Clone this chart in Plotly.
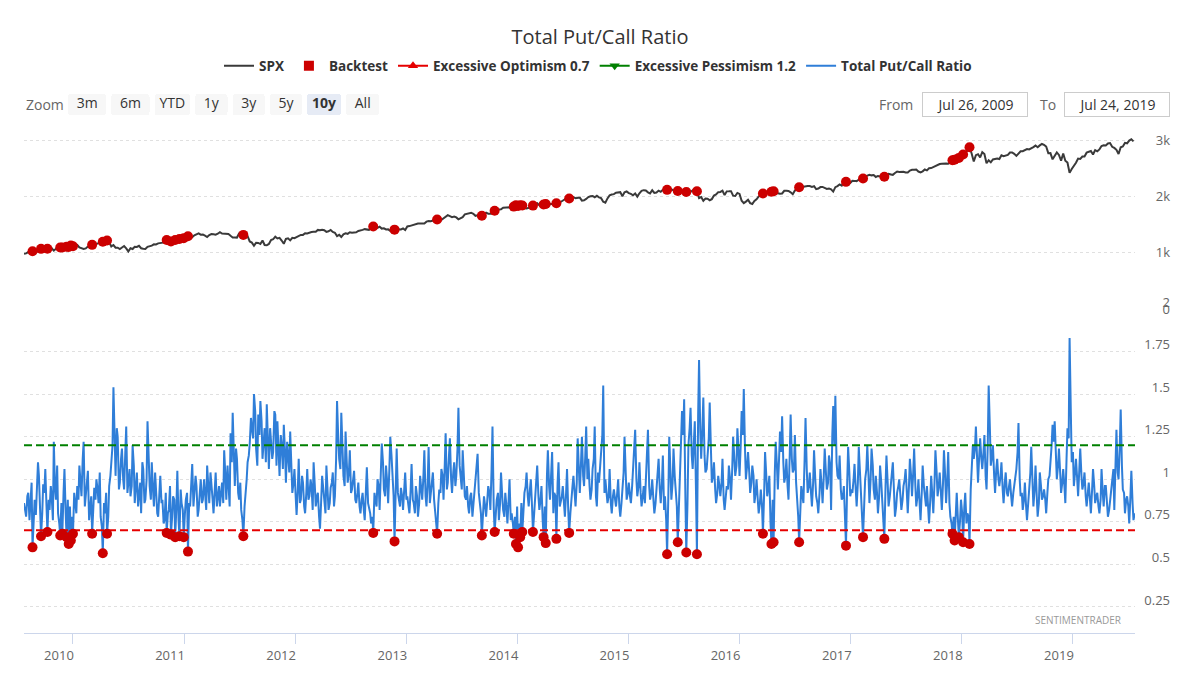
import pandas as pd
import plotly.graph_objects as go

# weekly closes (Fridays), starting 2009-07-24
spx_2009 = [979, 987, 1010, 1005, 1026, 1029, 1016, 1042, 1068, 1044, 1025, 1071, 1087, 1079, 1036,
            1069, 1093, 1091, 1091, 1106, 1106, 1102, 1126]
spx_2010 = [1115, 1145, 1136, 1092, 1074, 1066, 1075, 1109, 1104, 1139, 1150, 1160, 1167, 1179, 1194,
            1192, 1217, 1187, 1111, 1136, 1088, 1089, 1065, 1092, 1118, 1076, 1022, 1078, 1065, 1103,
            1102, 1122, 1079, 1071, 1065, 1105, 1110, 1125, 1149, 1146, 1166, 1176, 1183, 1183, 1225,
            1199, 1199, 1189, 1225, 1240, 1244, 1257]
spx_2011 = [1258, 1272, 1293, 1283, 1276, 1310, 1329, 1343, 1320, 1321, 1304, 1279, 1313, 1332, 1328,
            1319, 1337, 1364, 1340, 1338, 1333, 1331, 1300, 1271, 1271, 1268, 1340, 1344, 1316, 1345,
            1292, 1199, 1179, 1124, 1177, 1174, 1154, 1216, 1136, 1131, 1155, 1224, 1238, 1285, 1253,
            1263, 1216, 1159, 1244, 1255, 1219, 1265, 1258]
spx_2012 = [1278, 1289, 1315, 1316, 1345, 1342, 1361, 1366, 1370, 1371, 1404, 1397, 1408, 1398, 1370,
            1379, 1403, 1369, 1353, 1295, 1318, 1278, 1325, 1343, 1335, 1362, 1355, 1357, 1363, 1386,
            1391, 1405, 1418, 1411, 1406, 1438, 1466, 1460, 1441, 1461, 1428, 1433, 1412, 1414, 1380,
            1360, 1409, 1416, 1418, 1413, 1430, 1402]
spx_2013 = [1466, 1472, 1486, 1503, 1513, 1518, 1520, 1516, 1518, 1551, 1561, 1557, 1569, 1553, 1589,
            1555, 1582, 1614, 1634, 1667, 1650, 1631, 1643, 1626, 1592, 1606, 1632, 1680, 1692, 1691,
            1710, 1691, 1655, 1664, 1633, 1655, 1688, 1710, 1692, 1690, 1703, 1744, 1760, 1762, 1771,
            1798, 1804, 1806, 1805, 1775, 1818, 1841]
spx_2014 = [1831, 1842, 1838, 1790, 1783, 1797, 1838, 1836, 1859, 1878, 1841, 1866, 1857, 1865, 1815,
            1865, 1863, 1881, 1878, 1877, 1900, 1924, 1949, 1936, 1963, 1961, 1985, 1968, 1978, 1978,
            1925, 1931, 1955, 1988, 2003, 2008, 1985, 2010, 1982, 1968, 1906, 1887, 1964, 2018, 2032,
            2039, 2064, 2068, 2075, 2003, 2071, 2089]
spx_2015 = [2058, 2045, 2019, 2051, 1995, 2055, 2097, 2110, 2104, 2071, 2053, 2108, 2061, 2067, 2102,
            2081, 2117, 2108, 2116, 2123, 2126, 2107, 2092, 2094, 2110, 2102, 2077, 2077, 2127, 2079,
            2104, 2078, 2092, 1971, 1989, 1921, 1961, 1958, 1931, 1951, 2015, 2033, 2075, 2079, 2100,
            2023, 2089, 2090, 2092, 2012, 2006, 2061]
spx_2016 = [2044, 1922, 1880, 1907, 1940, 1880, 1865, 1918, 1948, 1999, 2022, 2050, 2035, 2073, 2048,
            2081, 2092, 2065, 2057, 2047, 2052, 2099, 2099, 2096, 2071, 2037, 2103, 2130, 2162, 2175,
            2173, 2183, 2184, 2184, 2169, 2180, 2128, 2139, 2165, 2168, 2153, 2133, 2141, 2126, 2085,
            2164, 2182, 2213, 2192, 2260, 2258, 2264, 2239]
spx_2017 = [2277, 2275, 2271, 2295, 2297, 2316, 2351, 2367, 2383, 2373, 2378, 2344, 2363, 2355, 2329,
            2349, 2384, 2399, 2391, 2382, 2416, 2439, 2432, 2433, 2438, 2423, 2425, 2459, 2473, 2472,
            2476, 2441, 2426, 2444, 2477, 2461, 2500, 2502, 2519, 2549, 2553, 2575, 2581, 2588, 2582,
            2579, 2602, 2642, 2652, 2675, 2683, 2674]
spx_2018 = [2743, 2786, 2810, 2873, 2762, 2620, 2732, 2747, 2691, 2786, 2752, 2588, 2641, 2604, 2656,
            2670, 2670, 2663, 2728, 2713, 2721, 2735, 2779, 2780, 2755, 2718, 2760, 2801, 2802, 2819,
            2840, 2833, 2850, 2875, 2902, 2872, 2905, 2930, 2914, 2885, 2767, 2768, 2658, 2723, 2781,
            2736, 2633, 2760, 2633, 2600, 2417, 2486]
spx_2019 = [2532, 2596, 2671, 2665, 2707, 2708, 2776, 2793, 2804, 2743, 2822, 2801, 2834, 2893, 2907,
            2905, 2940, 2946, 2881, 2860, 2826, 2752, 2873, 2887, 2950, 2942, 2990, 3014, 2977]

# put/call ratio, Friday readings
pc_2009 = [0.86, 0.78, 0.92, 0.84, 0.60, 0.88, 0.95, 1.02, 0.665, 0.97, 1.06, 0.69, 0.82, 0.90, 1.22,
           0.88, 0.80, 0.67, 0.68, 1.06, 0.66, 0.62, 0.64]
pc_2010 = [0.68, 0.85, 0.96, 1.08, 0.90, 1.22, 0.92, 1.05, 0.84, 0.68, 0.95, 1.00, 0.86, 0.78, 0.565,
           0.80, 0.68, 0.96, 1.08, 1.54, 1.02, 1.25, 0.98, 1.18, 0.94, 1.31, 1.00, 0.90, 1.20, 0.86,
           1.04, 0.92, 0.80, 1.06, 0.88, 1.34, 0.96, 1.10, 0.84, 0.93, 0.78, 1.02, 0.88, 0.76, 0.685,
           0.82, 0.675, 0.90, 0.66, 1.05, 0.665, 0.86]
pc_2011 = [0.66, 0.88, 0.575, 0.84, 1.09, 0.90, 0.96, 0.82, 1.00, 0.88, 0.92, 1.08, 0.86, 0.94, 0.80,
           1.04, 0.90, 0.84, 0.98, 1.17, 0.88, 0.94, 1.27, 1.39, 0.96, 1.12, 0.88, 0.82, 0.665, 0.90,
           1.10, 1.21, 1.30, 1.50, 1.18, 1.38, 1.46, 1.12, 1.30, 1.44, 1.06, 1.24, 1.16, 1.38, 1.34,
           1.02, 1.20, 1.32, 0.98, 1.14, 1.28, 0.92, 1.06]
pc_2012 = [0.79, 1.12, 0.88, 0.98, 0.80, 1.06, 0.90, 0.96, 1.10, 0.84, 0.92, 0.71, 1.02, 0.86, 1.08,
           0.82, 0.95, 1.04, 0.90, 1.46, 1.12, 1.39, 1.02, 1.28, 0.98, 1.17, 0.94, 1.05, 0.86, 0.98,
           0.80, 0.92, 0.76, 1.07, 0.84, 0.74, 0.685, 0.88, 1.00, 0.82, 1.21, 0.94, 1.08, 0.86, 1.25,
           1.02, 0.635, 1.18, 0.88, 0.95, 0.82, 1.04]
pc_2013 = [0.90, 0.80, 1.09, 0.86, 0.96, 0.78, 1.02, 0.88, 1.17, 0.84, 1.19, 0.92, 1.04, 0.82, 0.68,
           0.94, 1.06, 0.88, 1.27, 0.98, 1.24, 0.92, 1.10, 1.02, 1.42, 1.00, 1.17, 0.90, 0.96, 0.80,
           0.92, 0.84, 1.00, 1.15, 0.86, 0.67, 0.90, 0.78, 0.96, 0.82, 1.31, 0.69, 0.88, 0.76, 1.04,
           0.82, 0.92, 0.74, 1.00, 0.80, 0.68, 0.62]
pc_2014 = [0.60, 0.66, 0.69, 0.92, 1.04, 0.84, 1.00, 0.69, 0.90, 1.08, 0.82, 0.96, 0.66, 0.625, 1.17,
           0.88, 1.16, 0.92, 0.65, 1.10, 0.86, 0.96, 0.78, 1.06, 0.685, 0.90, 1.02, 0.84, 1.24, 0.92,
           1.25, 0.96, 1.31, 1.12, 0.88, 1.06, 1.31, 0.84, 0.98, 1.18, 1.55, 1.00, 0.86, 1.06, 0.80,
           0.94, 0.84, 1.00, 0.78, 0.92, 1.25, 0.88]
pc_2015 = [0.98, 0.86, 1.06, 1.29, 0.90, 1.10, 0.84, 0.96, 1.02, 1.29, 0.88, 1.00, 0.80, 0.94, 1.12,
           0.86, 1.14, 0.90, 0.56, 1.25, 0.88, 1.18, 0.92, 0.63, 1.02, 1.40, 1.47, 0.57, 1.20, 1.42,
           1.06, 1.34, 0.56, 1.70, 1.12, 1.48, 1.04, 1.16, 1.45, 0.98, 1.10, 0.86, 1.02, 0.90, 1.12,
           0.82, 0.96, 1.08, 0.88, 1.25, 1.02, 1.30]
pc_2016 = [1.02, 1.40, 1.53, 1.00, 1.16, 0.92, 1.08, 0.86, 1.00, 0.80, 0.94, 0.68, 1.16, 0.90, 1.02,
           0.62, 0.63, 1.22, 0.94, 1.28, 1.37, 0.98, 1.12, 0.88, 1.38, 1.04, 1.26, 0.90, 0.63, 0.96,
           0.86, 1.36, 0.92, 1.04, 0.84, 1.17, 0.90, 0.80, 1.06, 0.86, 1.18, 0.94, 1.14, 0.82, 1.43,
           1.49, 1.02, 1.14, 0.88, 0.96, 0.61, 1.19, 0.90]
pc_2017 = [0.92, 1.09, 0.84, 1.19, 0.90, 0.66, 1.00, 1.20, 0.86, 1.18, 0.94, 1.02, 0.80, 1.08, 0.88,
           0.65, 1.14, 0.84, 0.96, 1.10, 0.78, 0.92, 1.00, 0.82, 0.96, 1.06, 0.80, 1.12, 0.90, 1.18,
           0.84, 1.00, 0.76, 1.08, 0.88, 0.96, 0.74, 1.02, 0.80, 1.17, 0.90, 1.04, 0.82, 1.17, 0.86,
           1.16, 0.78, 0.68, 0.64, 0.92, 0.66, 0.88]
pc_2018 = [0.63, 0.92, 0.80, 0.62, 1.04, 1.12, 1.31, 0.98, 1.24, 1.06, 1.26, 0.94, 1.55, 1.08, 1.20,
           0.92, 1.12, 0.96, 1.10, 0.86, 1.04, 0.90, 1.00, 0.84, 0.96, 1.06, 1.33, 0.90, 0.82, 0.98,
           0.76, 0.92, 1.19, 0.84, 1.08, 0.78, 1.04, 0.88, 0.94, 0.80, 1.00, 1.08, 1.32, 1.34, 1.00,
           1.18, 0.92, 1.06, 0.86, 1.30, 1.83, 1.10]
pc_2019 = [0.96, 1.12, 0.90, 1.18, 0.94, 1.04, 0.84, 0.98, 0.80, 1.06, 0.86, 0.92, 0.80, 1.06, 0.84,
           0.96, 0.78, 0.88, 1.00, 0.82, 1.29, 1.00, 1.41, 0.94, 0.80, 0.90, 0.74, 1.05, 0.76]

# put/call ratio, Tuesday readings (the Tuesday after each Friday above)
pc_mid_2009 = [0.82, 0.90, 0.76, 0.98, 0.84, 0.79, 1.10, 0.86, 0.80, 0.92,
               0.84, 0.88, 0.96, 0.76, 0.94, 1.08, 0.74, 0.86, 0.92, 0.80,
               0.88, 0.84, 0.78]
pc_mid_2010 = [0.92, 0.80, 0.88, 0.96, 1.12, 0.84, 0.98, 0.76, 0.90, 0.82,
               0.88, 0.94, 1.04, 0.72, 0.86, 0.92, 0.78, 1.02, 1.20, 1.10,
               1.30, 0.94, 1.12, 1.00, 1.16, 0.92, 1.06, 0.96, 1.08, 0.94,
               0.84, 0.98, 1.10, 0.86, 1.00, 1.12, 0.88, 0.94, 1.04, 0.80,
               0.90, 0.86, 0.74, 0.92, 0.80, 0.96, 0.78, 0.88, 0.84, 0.76,
               0.94, 0.82]
pc_mid_2011 = [0.80, 0.92, 0.86, 0.98, 0.84, 1.02, 0.78, 0.94, 0.86, 1.00,
               0.82, 0.96, 1.04, 0.88, 0.92, 0.84, 0.96, 0.90, 0.86, 1.02,
               1.08, 0.84, 1.10, 1.04, 1.18, 0.92, 0.98, 0.76, 0.84, 1.00,
               1.14, 1.36, 1.24, 1.40, 1.08, 1.26, 1.34, 1.20, 1.10, 1.22,
               1.30, 1.12, 1.40, 1.08, 1.18, 1.26, 1.06, 1.16, 1.22, 1.04,
               1.12, 0.98, 0.90]
pc_mid_2012 = [0.94, 0.86, 1.02, 0.84, 0.92, 0.88, 1.00, 0.82, 0.96, 0.90,
               0.78, 0.88, 0.94, 0.80, 0.92, 0.86, 0.98, 0.84, 1.12, 1.24,
               1.06, 1.18, 0.96, 1.10, 1.04, 0.92, 1.00, 0.88, 0.92, 0.84,
               0.88, 0.82, 0.94, 0.86, 0.80, 0.78, 0.92, 0.84, 0.96, 1.04,
               1.10, 0.90, 0.98, 1.06, 1.14, 0.90, 1.02, 0.92, 0.84, 0.90,
               0.96, 0.88]
pc_mid_2013 = [0.84, 0.94, 0.88, 0.80, 0.90, 0.86, 0.94, 1.02, 0.90, 0.98,
               0.86, 0.96, 0.88, 0.76, 0.86, 0.92, 1.02, 1.08, 0.94, 1.14,
               1.00, 1.04, 0.96, 1.18, 1.08, 0.94, 1.02, 0.88, 0.84, 0.90,
               0.78, 0.94, 1.06, 0.92, 0.80, 0.86, 0.84, 0.88, 0.92, 1.06,
               0.84, 0.80, 0.92, 0.86, 0.90, 0.78, 0.84, 0.88, 0.76, 0.74,
               0.78, 0.84]
pc_mid_2014 = [0.74, 0.86, 0.82, 0.96, 0.90, 0.94, 0.84, 0.80, 0.98, 0.90,
               0.88, 0.76, 0.84, 1.02, 0.96, 1.04, 0.80, 0.90, 0.98, 0.84,
               0.90, 0.86, 0.92, 0.82, 0.80, 0.96, 0.88, 0.98, 1.06, 1.10,
               1.02, 1.14, 1.00, 0.96, 0.94, 1.12, 0.90, 1.04, 1.08, 1.26,
               0.92, 0.94, 0.90, 0.86, 0.90, 0.88, 0.92, 0.84, 0.86, 1.04,
               0.96, 0.92]
pc_mid_2015 = [0.90, 0.96, 1.14, 1.00, 0.96, 0.92, 0.90, 0.86, 1.12, 0.96,
               0.92, 0.88, 0.86, 1.02, 0.94, 0.98, 0.82, 0.76, 0.90, 1.04,
               0.98, 1.02, 0.84, 0.88, 1.18, 1.26, 0.90, 0.86, 1.30, 1.14,
               1.22, 0.92, 1.38, 1.28, 1.30, 1.14, 1.06, 1.24, 1.08, 1.02,
               0.94, 0.92, 0.96, 0.98, 0.88, 0.90, 0.94, 1.00, 1.06, 1.12,
               1.08, 1.16]
pc_mid_2016 = [1.20, 1.26, 1.18, 1.08, 1.04, 0.98, 1.02, 0.92, 0.88, 0.86,
               0.84, 0.92, 1.02, 0.96, 0.74, 0.88, 1.04, 1.08, 1.12, 1.16,
               1.10, 1.02, 0.96, 1.14, 1.12, 1.06, 0.98, 0.78, 0.84, 0.90,
               1.12, 1.06, 0.96, 0.92, 0.98, 1.00, 0.86, 0.92, 0.96, 1.02,
               1.04, 0.98, 1.08, 1.26, 1.20, 1.10, 1.00, 0.94, 0.90, 0.76,
               0.98, 1.04, 0.94]
pc_mid_2017 = [1.00, 0.94, 0.98, 1.04, 0.80, 0.86, 1.06, 1.02, 1.00, 1.08,
               0.88, 0.92, 0.90, 0.98, 0.78, 0.96, 0.98, 0.90, 1.02, 0.92,
               0.84, 0.96, 0.90, 0.88, 1.00, 0.92, 0.96, 1.02, 1.04, 0.96,
               0.90, 0.86, 0.92, 0.96, 0.84, 0.80, 0.88, 0.90, 0.98, 1.04,
               0.96, 0.92, 0.98, 1.02, 1.00, 0.86, 0.74, 0.78, 0.80, 0.76,
               0.76, 0.80]
pc_mid_2018 = [0.84, 0.74, 0.78, 0.94, 1.20, 1.18, 1.10, 1.14, 1.12, 1.16,
               1.02, 1.20, 1.30, 1.14, 1.02, 1.06, 1.00, 1.02, 0.94, 0.98,
               0.92, 0.96, 0.90, 0.92, 1.02, 1.16, 1.00, 0.92, 0.88, 0.84,
               0.86, 1.04, 0.96, 0.94, 0.90, 0.86, 0.96, 0.90, 0.88, 0.92,
               1.02, 1.20, 1.22, 1.14, 1.08, 1.04, 0.98, 0.96, 1.12, 1.24,
               1.40, 1.16]
pc_mid_2019 = [1.04, 1.00, 1.06, 1.02, 0.98, 0.90, 0.92, 0.88, 0.94, 0.96,
               0.90, 0.84, 0.88, 0.92, 0.96, 0.86, 0.82, 0.92, 1.06, 1.12,
               1.04, 1.20, 1.08, 0.92, 0.88, 0.84, 0.90, 0.86, 0.80]

optimism_level = 0.7
pessimism_level = 1.2
spx_ticks = [0, 1000, 2000, 3000]
spx_ticktext = ["0", "1k", "2k", "3k"]
pc_ticks = [0.25, 0.5, 0.75, 1, 1.25, 1.5, 1.75, 2]
pc_ticktext = ["0.25", "0.5", "0.75", "1", "1.25", "1.5", "1.75", "2"]
zoom_labels = ["\u00a03m\u00a0", "\u00a06m\u00a0", "YTD", "\u00a01y\u00a0", "\u00a03y\u00a0",
               "\u00a05y\u00a0", "<b>10y</b>", "\u00a0All\u00a0"]
date_from = "2009-07-24"
date_to = "2019-07-24"

spx = (spx_2009 + spx_2010 + spx_2011 + spx_2012 + spx_2013 + spx_2014 + spx_2015 + spx_2016
       + spx_2017 + spx_2018 + spx_2019)
pc = (pc_2009 + pc_2010 + pc_2011 + pc_2012 + pc_2013 + pc_2014 + pc_2015 + pc_2016
      + pc_2017 + pc_2018 + pc_2019)
pc_mid = (pc_mid_2009 + pc_mid_2010 + pc_mid_2011 + pc_mid_2012 + pc_mid_2013 + pc_mid_2014
          + pc_mid_2015 + pc_mid_2016 + pc_mid_2017 + pc_mid_2018 + pc_mid_2019)

weeks = pd.date_range("2009-07-24", periods=len(pc), freq="7D")
df = pd.DataFrame(dict(date=weeks, spx=spx, pc=pc))
mid = pd.DataFrame(dict(date=pd.date_range("2009-07-28", periods=len(pc_mid), freq="7D"),
                        pc=pc_mid))
ratio = pd.concat([df[["date", "pc"]], mid]).sort_values("date")
bt = df[df.pc < optimism_level]

RED = "#cc0000"
BLUE = "#2f7ed8"
FONT = "Open Sans"

# page geometry (pixels)
ML, MR, MT, MB = 24, 30, 128, 45
PW = 1200 - ML - MR
PH = 678 - MT - MB


def xp(px):
    return (px - ML) / PW


def yp(py):
    return (678 - MB - py) / PH


fig = go.Figure()

# bottom panel
fig.add_trace(go.Scatter(x=ratio.date, y=ratio.pc, mode="lines", name="Total Put/Call Ratio",
                         line=dict(color=BLUE, width=2), yaxis="y", legendrank=5))
fig.add_trace(go.Scatter(x=[date_from, date_to], y=[optimism_level] * 2, mode="lines",
                         line=dict(color="#e60000", width=2, dash="8px,4px"), showlegend=False))
fig.add_trace(go.Scatter(x=[date_from, date_to], y=[pessimism_level] * 2, mode="lines",
                         line=dict(color="#008000", width=2, dash="8px,4px"), showlegend=False))
fig.add_trace(go.Scatter(x=bt.date, y=bt.pc, mode="markers", marker=dict(color=RED, size=10),
                         showlegend=False))

# top panel
fig.add_trace(go.Scatter(x=df.date, y=df.spx, mode="lines", name="SPX",
                         line=dict(color="#3a3a3a", width=2), yaxis="y2", legendrank=1))
fig.add_trace(go.Scatter(x=bt.date, y=bt.spx, mode="markers", marker=dict(color=RED, size=10),
                         yaxis="y2", showlegend=False))

# legend-only entries
fig.add_trace(go.Scatter(x=[None], y=[None], mode="markers", name="Backtest",
                         marker=dict(color=RED, size=10, symbol="square"), legendrank=2))
fig.add_trace(go.Scatter(x=[None], y=[None], mode="lines+markers", name="Excessive Optimism 0.7",
                         line=dict(color="#e60000", width=2),
                         marker=dict(color="#e60000", size=9, symbol="triangle-up"), legendrank=3))
fig.add_trace(go.Scatter(x=[None], y=[None], mode="lines+markers", name="Excessive Pessimism 1.2",
                         line=dict(color="#008000", width=2),
                         marker=dict(color="#008000", size=9, symbol="triangle-down"), legendrank=4))

split = yp(309)
fig.update_layout(
    width=1200, height=678,
    margin=dict(l=ML, r=MR, t=MT, b=MB, autoexpand=False),
    paper_bgcolor="white", plot_bgcolor="white",
    font=dict(family=FONT, color="#666666", size=13),
    title=dict(text="Total Put/Call Ratio", x=0.5, xanchor="center", y=1 - 37 / 678,
               yanchor="middle", font=dict(size=20, color="#333333")),
    legend=dict(orientation="h", x=xp(598), xanchor="center", y=yp(66), yanchor="middle",
                font=dict(size=13.5, color="#333333", weight="bold"), traceorder="normal"),
    hovermode=False,
    xaxis=dict(
        type="date", range=[date_from, date_to], domain=[0, xp(1135)], showgrid=False,
        showline=True, linecolor="#ccd6eb", linewidth=1,
        ticks="outside", ticklen=10, tickcolor="#ccd6eb",
        dtick="M12", tick0="2010-01-01", tickformat="%Y", ticklabelshift=-14,
        tickfont=dict(size=13, color="#666666"),
        rangeselector=dict(
            buttons=[
                dict(count=3, label=zoom_labels[0], step="month", stepmode="backward"),
                dict(count=6, label=zoom_labels[1], step="month", stepmode="backward"),
                dict(count=1, label=zoom_labels[2], step="year", stepmode="todate"),
                dict(count=1, label=zoom_labels[3], step="year", stepmode="backward"),
                dict(count=3, label=zoom_labels[4], step="year", stepmode="backward"),
                dict(count=5, label=zoom_labels[5], step="year", stepmode="backward"),
                dict(count=10, label=zoom_labels[6], step="year", stepmode="backward"),
                dict(label=zoom_labels[7], step="all"),
            ],
            x=xp(68), xanchor="left", y=yp(105), yanchor="middle",
            bgcolor="#f7f7f7", activecolor="#e6ebf5", borderwidth=0,
            font=dict(size=14, color="#333333"),
        ),
    ),
    yaxis=dict(
        domain=[0, split], range=[0.097, 2.0], side="left", anchor="free", position=1,
        ticklabelposition="outside", ticks="",
        tickvals=pc_ticks, ticktext=pc_ticktext, ticklabelshift=-7,
        showgrid=True, gridcolor="#e0e0e0", griddash="dot", zeroline=False, showline=False,
        tickfont=dict(size=13, color="#666666"),
    ),
    yaxis2=dict(
        domain=[split, 1], range=[0, 3214], side="left", anchor="free", position=1,
        ticklabelposition="outside", ticks="",
        tickvals=spx_ticks, ticktext=spx_ticktext,
        showgrid=True, gridcolor="#e0e0e0", griddash="dot", zeroline=False, showline=False,
        tickfont=dict(size=13, color="#666666"),
    ),
)

ann_y = yp(105)
fig.add_annotation(text="Zoom", x=0, xref="paper", y=ann_y, yref="paper", xanchor="left",
                   yanchor="middle", showarrow=False, font=dict(size=14, color="#666666"))
fig.add_annotation(text="From", x=xp(896), xref="paper", y=ann_y, yref="paper", xanchor="center",
                   yanchor="middle", showarrow=False, font=dict(size=14, color="#666666"))
fig.add_annotation(text="To", x=xp(1048), xref="paper", y=ann_y, yref="paper", xanchor="center",
                   yanchor="middle", showarrow=False, font=dict(size=14, color="#666666"))
for label, cx in [("Jul 26, 2009", 975), ("Jul 24, 2019", 1117)]:
    fig.add_annotation(text=label, x=xp(cx), xref="paper", y=ann_y, yref="paper",
                       xanchor="center", yanchor="middle", showarrow=False,
                       width=100, height=19, borderpad=2, bordercolor="#cccccc", borderwidth=1,
                       font=dict(size=14, color="#333333"))
fig.add_annotation(text="SENTIMENTRADER", x=xp(1078), xref="paper", y=yp(620), yref="paper",
                   xanchor="center", yanchor="middle", showarrow=False,
                   font=dict(size=10, color="#999999"))

fig.write_html("out.html", config={"displayModeBar": False},
               post_script="document.body.style.margin='0';")
